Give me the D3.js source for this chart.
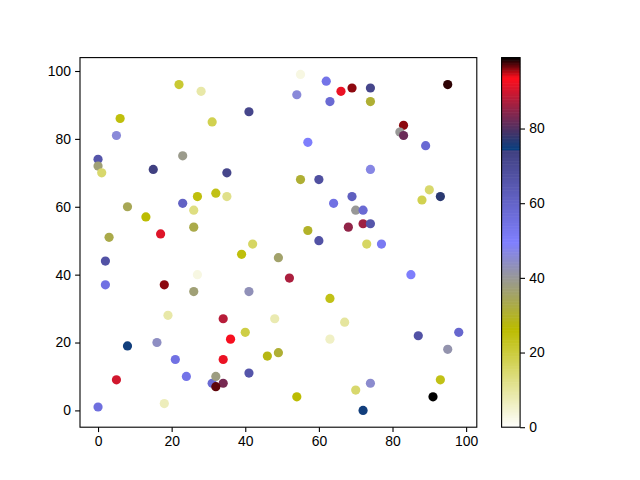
<!DOCTYPE html>
<html>
<head>
<meta charset="utf-8">
<script src="https://d3js.org/d3.v7.min.js"></script>
<style>
body { margin: 0; background: #fff; }
svg text { font-family: "Liberation Sans", Arial, sans-serif; font-size: 13.9px; fill: #000; }
</style>
</head>
<body>
<div id="chart"></div>
<script>
// point positions and colour values
var xs = [22, 28, 6, 5, 0, 0, 1, 23, 15, 41, 31, 35, 32, 27, 35, 23, 26, 8, 13, 26, 17, 3, 42,
	55, 62, 54, 66, 69, 74, 63, 74, 95, 83, 82, 83, 89, 57, 74, 55, 60, 90, 88, 93, 64, 69, 70, 72, 68, 72, 74, 57, 60, 73, 77,
	2, 39, 2, 18, 27, 26, 41, 19, 34, 36, 40, 16, 8, 21, 34, 5, 24, 31, 32, 34, 32, 41, 18, 0,
	49, 52, 85, 63, 48, 67, 63, 87, 98, 95, 46, 49, 93, 70, 74, 54, 91, 72];
var ys = [96, 94, 86, 81, 74, 72, 70, 75, 71, 88, 85, 70, 64, 63, 63, 61, 59, 60, 57, 54, 52, 51, 49,
	99, 97, 93, 94, 95, 95, 91, 91, 96, 84, 82, 81, 78, 79, 71, 68, 68, 65, 62, 63, 61, 63, 59, 59, 54, 55, 55, 53, 50, 49, 49,
	44, 46, 37, 37, 40, 35, 35, 28, 27, 21, 23, 20, 19, 15, 15, 9, 10, 8, 10, 8, 7, 11, 2, 1,
	45, 39, 40, 33, 27, 26, 21, 22, 23, 18, 16, 17, 9, 6, 8, 4, 4, 0];
var cs = [21, 9, 25, 46, 66, 37, 15, 39, 74, 72, 18, 72, 24, 25, 12, 61, 13, 34, 26, 33, 91, 33, 16,
	3, 54, 46, 92, 96, 72, 58, 31, 98, 96, 40, 82, 58, 50, 47, 31, 68, 15, 18, 77, 55, 62, 40, 58, 85, 86, 66, 30, 67, 16, 52,
	67, 25, 55, 96, 3, 37, 43, 9, 88, 93, 19, 44, 75, 55, 92, 90, 54, 58, 38, 83, 97, 66, 7, 56,
	36, 87, 50, 24, 8, 10, 6, 67, 59, 42, 28, 31, 24, 15, 45, 26, 99, 75];

var xTicks = [0, 20, 40, 60, 80, 100];
var yTicks = [0, 20, 40, 60, 80, 100];
var cTicks = [0, 20, 40, 60, 80];

// gist_stern reversed
function sternR(v)
{
	var t = 1 - Math.max(0, Math.min(1, v));
	var r, g, b;
	if(t < 0.0547)
		r = t / 0.0547;
	else if(t < 0.25)
		r = 1 - (t - 0.0547) / (0.25 - 0.0547) * (1 - 0.027);
	else
		r = t;
	g = t;
	if(t < 0.5)
		b = t / 0.5;
	else if(t < 0.735)
		b = 1 - (t - 0.5) / 0.235;
	else
		b = (t - 0.735) / 0.265;
	return d3.rgb(r * 255, g * 255, b * 255).toString();
}

var W = 640, H = 480;
var axL = 80, axR = 476.8, axT = 57.6, axB = 427.2;
var cbL = 501.6, cbW = 18.5;

var svg = d3.select("#chart").append("svg")
	.attr("width", W)
	.attr("height", H);

var xExt = d3.extent(xs), yExt = d3.extent(ys);
var xPad = (xExt[1] - xExt[0]) * 0.05, yPad = (yExt[1] - yExt[0]) * 0.05;

var x = d3.scaleLinear().domain([xExt[0] - xPad, xExt[1] + xPad]).range([axL, axR]);
var y = d3.scaleLinear().domain([yExt[0] - yPad, yExt[1] + yPad]).range([axB, axT]);
var cmax = d3.max(cs);
var c = d3.scaleLinear().domain([0, cmax]).range([0, 1]);

var pts = xs.map(function(d, i)
{
	return {x: d, y: ys[i], c: cs[i]};
});

svg.append("g")
	.selectAll("circle")
	.data(pts)
	.enter()
	.append("circle")
	.attr("cx", function(d) { return x(d.x); })
	.attr("cy", function(d) { return y(d.y); })
	.attr("r", 4.6)
	.attr("fill", function(d) { return sternR(c(d.c)); });

svg.append("rect")
	.attr("x", axL)
	.attr("y", axT)
	.attr("width", axR - axL)
	.attr("height", axB - axT)
	.attr("fill", "none")
	.attr("stroke", "#000")
	.attr("stroke-width", 1.1);

var xAxis = d3.axisBottom(x).tickValues(xTicks).tickSize(4.9).tickPadding(4.2).tickSizeOuter(0);
var gx = svg.append("g").attr("transform", "translate(0," + axB + ")").call(xAxis);
var yAxis = d3.axisLeft(y).tickValues(yTicks).tickSize(4.9).tickPadding(4.2).tickSizeOuter(0);
var gy = svg.append("g").attr("transform", "translate(" + axL + ",0)").call(yAxis);
[gx, gy].forEach(function(g)
{
	g.select(".domain").remove();
	g.selectAll("line").attr("stroke", "#000").attr("stroke-width", 1.1);
	g.selectAll("text").attr("font-family", null).attr("font-size", null);
});

// colorbar
var cy = d3.scaleLinear().domain([0, cmax]).range([axB, axT]);
var steps = d3.range(0, 256).map(function(i) { return i * cmax / 256; });
svg.append("g")
	.selectAll("rect")
	.data(steps)
	.enter()
	.append("rect")
	.attr("x", cbL)
	.attr("width", cbW)
	.attr("y", function(d) { return cy(d + cmax / 256) - 0.3; })
	.attr("height", function(d) { return cy(d) - cy(d + cmax / 256) + 0.6; })
	.attr("fill", function(d) { return sternR(c(d + cmax / 512)); });

svg.append("rect")
	.attr("x", cbL)
	.attr("y", axT)
	.attr("width", cbW)
	.attr("height", axB - axT)
	.attr("fill", "none")
	.attr("stroke", "#000")
	.attr("stroke-width", 1.1);

var cAxis = d3.axisRight(cy).tickValues(cTicks).tickSize(4.9).tickPadding(4.2).tickSizeOuter(0);
var gc = svg.append("g").attr("transform", "translate(" + (cbL + cbW) + ",0)").call(cAxis);
gc.select(".domain").remove();
gc.selectAll("line").attr("stroke", "#000").attr("stroke-width", 1.1);
gc.selectAll("text").attr("font-family", null).attr("font-size", null);
</script>
</body>
</html>
